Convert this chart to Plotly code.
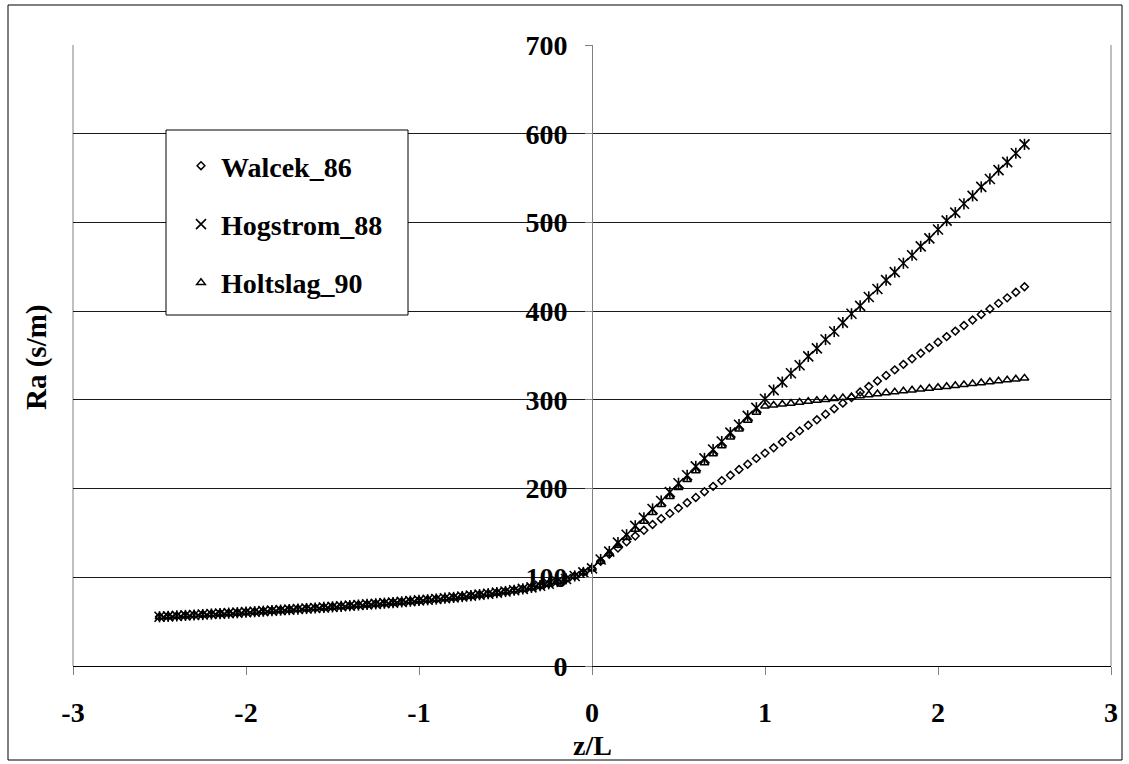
import plotly.graph_objects as go

# Stability parameter z/L, sampled every 0.05 from -2.5 to 2.5
z_over_L = [round(-2.5 + 0.05 * i, 2) for i in range(101)]

# Unstable side (z/L = -2.50 ... -0.05): the three schemes coincide
ra_unstable = [
    55.5, 56.0, 56.5, 57.0, 57.5, 58.0, 58.6, 59.1, 59.6, 60.1,
    60.7, 61.2, 61.8, 62.4, 63.0, 63.6, 64.2, 64.8, 65.4, 66.0,
    66.7, 67.3, 68.0, 68.7, 69.4, 70.1, 70.8, 71.5, 72.3, 73.1,
    73.9, 74.7, 75.5, 76.4, 77.3, 78.3, 79.3, 80.4, 81.5, 82.7,
    84.0, 85.4, 86.9, 88.6, 90.5, 92.7, 95.2, 98.1, 101.5, 105.5,
]

# Stable side (z/L = 0.00 ... 2.50)
walcek_stable = [
    110.0, 118.0, 126.0, 133.0, 140.0, 146.5, 153.0, 159.5, 166.0, 172.0,
    178.0, 184.0, 190.0, 196.5, 202.5, 209.0, 215.0, 221.5, 227.5, 234.0,
    240.0, 246.0, 252.5, 258.8, 265.0, 271.3, 277.5, 283.8, 290.0, 296.3,
    302.5, 308.8, 315.0, 321.3, 327.5, 333.8, 340.0, 346.3, 352.5, 358.8,
    365.0, 371.3, 377.5, 383.8, 390.0, 396.3, 402.5, 408.8, 415.0, 421.3,
    427.5,
]
hogstrom_stable = [
    110, 120, 129, 139, 148, 158, 167, 177, 186, 196,
    206, 215, 225, 234, 244, 253, 263, 272, 282, 291,
    301, 311, 320, 330, 339, 349, 358, 368, 377, 387,
    397, 406, 416, 425, 435, 444, 454, 463, 473, 482,
    492, 502, 511, 521, 530, 540, 549, 559, 568, 578,
    588,
]
holtslag_stable = [
    110.0, 118.0, 127.0, 136.0, 145.0, 154.0, 163.0, 173.0, 182.0, 191.0,
    201.0, 210.0, 220.0, 229.0, 239.0, 248.0, 258.0, 267.0, 277.0, 286.0,
    293.0, 294.0, 295.1, 296.1, 297.2, 298.2, 299.3, 300.3, 301.4, 302.4,
    303.5, 304.6, 305.7, 306.8, 307.9, 308.9, 310.0, 311.0, 312.0, 313.0,
    314.0, 315.0, 316.1, 317.1, 318.2, 319.2, 320.3, 321.3, 322.4, 323.4,
    324.5,
]

walcek = ra_unstable + walcek_stable
hogstrom = ra_unstable + hogstrom_stable
holtslag = ra_unstable + holtslag_stable

x_ticks = [-3, -2, -1, 0, 1, 2, 3]
y_ticks = [0, 100, 200, 300, 400, 500, 600, 700]

SERIF = "Times New Roman, Liberation Serif, serif"
INK = "#000000"
FRAME_GREY = "#808080"

# page geometry (pixels)
W, H = 1129, 764
L_PX, R_PX, T_PX, B_PX = 73, 1111, 45, 666


def paper_x(p):
    return (p - L_PX) / (R_PX - L_PX)


def paper_y(p):
    return (B_PX - p) / (B_PX - T_PX)


def bold(size):
    return dict(family=SERIF, size=size, color=INK, weight="bold")


fig = go.Figure()

fig.add_trace(go.Scatter(
    x=z_over_L, y=walcek, mode="markers", name="Walcek_86",
    legendgroup="w",
    marker=dict(symbol="diamond-open", size=6, color=INK,
                line=dict(width=1.5, color=INK)),
))
fig.add_trace(go.Scatter(
    x=z_over_L, y=hogstrom, mode="markers", name="Hogstrom_88",
    legendgroup="h",
    marker=dict(symbol="x-thin-open", size=10, color=INK,
                line=dict(width=1.6, color=INK)),
))
fig.add_trace(go.Scatter(
    x=z_over_L, y=hogstrom, mode="markers", name="Hogstrom_88",
    legendgroup="h", showlegend=False,
    marker=dict(symbol="line-ns-open", size=8, color=INK,
                line=dict(width=1.6, color=INK)),
))
fig.add_trace(go.Scatter(
    x=z_over_L, y=holtslag, mode="markers", name="Holtslag_90",
    legendgroup="t",
    marker=dict(symbol="triangle-up-open", size=7.5, color=INK,
                line=dict(width=1.5, color=INK)),
))

shapes = [
    # plot-area side borders
    dict(type="line", xref="paper", yref="paper", x0=0, x1=0, y0=0, y1=1,
         line=dict(color=FRAME_GREY, width=1), layer="below"),
    dict(type="line", xref="paper", yref="paper", x0=1, x1=1, y0=0, y1=1,
         line=dict(color=FRAME_GREY, width=1), layer="below"),
    # outer chart frame
    dict(type="rect", xref="paper", yref="paper",
         x0=paper_x(8), x1=paper_x(1122), y0=paper_y(760), y1=paper_y(5),
         line=dict(color=INK, width=1), fillcolor="rgba(0,0,0,0)",
         layer="below"),
    # legend box
    dict(type="rect", xref="paper", yref="paper",
         x0=paper_x(166), x1=paper_x(408), y0=paper_y(315), y1=paper_y(130),
         line=dict(color=INK, width=1), fillcolor="white", layer="above"),
]

annotations = [
    dict(text="z/L", xref="paper", yref="paper", x=paper_x(592),
         y=paper_y(745), showarrow=False, xanchor="center", yanchor="middle",
         font=bold(28)),
    dict(text="Ra (s/m)", xref="paper", yref="paper", x=paper_x(36),
         y=paper_y(357), showarrow=False, xanchor="center", yanchor="middle",
         textangle=-90, font=bold(29)),
]

fig.update_layout(
    width=W, height=H,
    margin=dict(l=L_PX, r=W - R_PX, t=T_PX, b=H - B_PX, pad=0),
    paper_bgcolor="white", plot_bgcolor="white",
    showlegend=True,
    legend=dict(
        x=paper_x(181), y=paper_y(141), xanchor="left", yanchor="top",
        bgcolor="rgba(0,0,0,0)", borderwidth=0,
        tracegroupgap=19,
        font=bold(28),
    ),
    xaxis=dict(
        range=[-3, 3], tickvals=x_ticks, ticktext=[str(v) for v in x_ticks],
        showgrid=False, zeroline=False,
        showline=True, linecolor=INK, linewidth=1,
        ticks="outside", ticklen=8, tickcolor=FRAME_GREY, tickwidth=1,
        ticklabelstandoff=13,
        tickfont=bold(28),
    ),
    yaxis=dict(
        range=[0, 700], tickvals=y_ticks, ticktext=[str(v) for v in y_ticks],
        anchor="free", position=0.5,
        showgrid=True, gridcolor="#1a1a1a", gridwidth=1,
        zeroline=False,
        showline=True, linecolor=FRAME_GREY, linewidth=1,
        ticks="outside", ticklen=7, tickcolor=FRAME_GREY, tickwidth=1,
        ticklabelstandoff=12,
        tickfont=bold(28),
    ),
    shapes=shapes,
    annotations=annotations,
)

fig.write_html("out.html")
